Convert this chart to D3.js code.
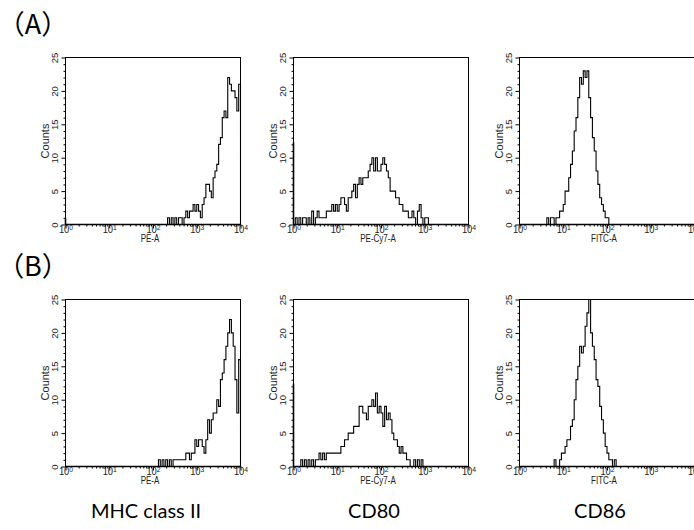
<!DOCTYPE html>
<html>
<head>
<meta charset="utf-8">
<script src="https://cdn.jsdelivr.net/npm/d3@7"></script>
<style>
body { margin: 0; background: #fff; }
svg { display: block; }
</style>
</head>
<body>
<svg id="chart" width="694" height="530"></svg>
<script>
// flow cytometry histograms, 24 bins per decade on a 10^0..10^4 log axis
const rowLabels = ["（A）", "（B）"];
const markers = ["MHC class II", "CD80", "CD86"];
const channels = ["PE-A", "PE-Cy7-A", "FITC-A"];
const yTicks = [0, 5, 10, 15, 20, 25];
const decades = [1, 10, 100, 1000, 10000];
const binsPerDecade = 24;

// first non-empty bin index and counts per bin
const a1Start = 54;
const a1Counts = [0,0,1,0,1,0,1,0,1,1, 0,1,2,1,2,2,3,2,3,2, 1,3,4,6,6,5,4,7,8,9, 12,13,16,17,16,22,21,20,20,19, 17,21];
const a2Start = 0;
const a2Counts = [0,1,0,1,0,1,1,0,1,0, 2,0,1,2,1,1,1,1,2,2, 2,3,2,3,2,3,4,4,3,2, 4,4,5,6,4,6,7,6,7,7, 7,8,9,10,8,10,8,8,9,10, 9,8,7,5,5,5,4,4,3,3, 2,2,2,1,1,2,1,0,2,3, 1,0,1,1,0];
const a3Start = 14;
const a3Counts = [0,1,0,1,1,0,1,1,2,2, 3,5,5,7,9,11,14,16,19,22, 21,23,22,23,19,16,13,11,8,6, 4,3,2,1,1,0];
const b1Start = 51;
const b1Counts = [1,0,1,0,1,0,1,0,1,1, 1,1,1,1,1,2,2,1,2,2, 4,3,4,4,3,2,4,7,5,7, 8,8,10,9,13,14,16,18,20,22, 20,18,13,8,16];
const b2Start = 3;
const b2Counts = [0,1,0,1,0,1,0,1,0,1, 1,2,1,2,1,2,2,2,2,2, 2,2,2,3,3,4,4,5,5,5, 6,6,6,9,9,8,8,7,9,9, 10,9,11,8,9,8,6,9,7,8, 7,5,4,4,3,2,3,2,2,1, 1,0,0,1,0,1,0,1,0];
const b3Start = 18;
const b3Counts = [0,1,0,0,1,2,2,3,4,4, 6,7,10,13,15,18,17,18,21,23, 25,20,18,16,13,12,9,7,5,3, 2,1,1,0,1,0];
// events piled up in the first channel (10^0)
const edgeCounts = [1, 12.3, 0, 0, 12.4, 0];

const panels = [
  { row: 0, col: 0, start: a1Start, counts: a1Counts, edge: edgeCounts[0] },
  { row: 0, col: 1, start: a2Start, counts: a2Counts, edge: edgeCounts[1] },
  { row: 0, col: 2, start: a3Start, counts: a3Counts, edge: edgeCounts[2] },
  { row: 1, col: 0, start: b1Start, counts: b1Counts, edge: edgeCounts[3] },
  { row: 1, col: 1, start: b2Start, counts: b2Counts, edge: edgeCounts[4] },
  { row: 1, col: 2, start: b3Start, counts: b3Counts, edge: edgeCounts[5] }
];

const svg = d3.select("#chart");
const W = 175, H = 167;
const colX = [65.5, 293.5, 519.5];
const rowY = [57.5, 299.5];
const axisFont = "'Liberation Sans', Arial, sans-serif";

const x = d3.scaleLog().domain([1, 1e4]).range([0, W]);
const y = d3.scaleLinear().domain([0, 25]).range([H, 0]);

const minorX = [];
decades.slice(0, -1).forEach(d => { for (let m = 2; m <= 9; m++) minorX.push(d * m); });
const minorY = d3.range(0, 26).filter(v => v % 5 != 0);

const line = d3.line()
    .x(d => x(d[0]))
    .y(d => y(d[1]))
    .curve(d3.curveStepAfter);

panels.forEach(p => {
    var gp = svg.append("g").attr("transform", `translate(${colX[p.col]},${rowY[p.row]})`);

    // y axis: minor then major ticks
    gp.append("g").call(d3.axisLeft(y).tickValues(minorY).tickSize(2).tickSizeOuter(0).tickFormat(""))
        .call(a => a.select(".domain").remove());
    var ya = gp.append("g").call(d3.axisLeft(y).tickValues(yTicks).tickSize(4).tickSizeOuter(0));
    ya.select(".domain").remove();
    ya.selectAll("text")
        .attr("transform", "rotate(-90)")
        .attr("x", 0).attr("y", -8).attr("dy", 0)
        .attr("text-anchor", "middle")
        .attr("font-family", axisFont).attr("font-size", 9.5).attr("fill", "#222");

    gp.append("text")
        .attr("transform", `translate(-17,${H / 2}) rotate(-90)`)
        .attr("text-anchor", "middle")
        .attr("font-family", axisFont).attr("font-size", 11).attr("fill", "#222")
        .text("Counts");

    // x axis: log decades
    gp.append("g").attr("transform", `translate(0,${H})`)
        .call(d3.axisBottom(x).tickValues(minorX).tickSize(2).tickSizeOuter(0).tickFormat(""))
        .call(a => a.select(".domain").remove());
    var xa = gp.append("g").attr("transform", `translate(0,${H})`)
        .call(d3.axisBottom(x).tickValues(decades).tickSize(4).tickSizeOuter(0).tickFormat(""));
    xa.select(".domain").remove();
    xa.selectAll(".tick text").remove();
    xa.selectAll(".tick").append("text")
        .attr("transform", "translate(0,8.8) scale(0.85,1)")
        .attr("text-anchor", "middle")
        .attr("font-family", axisFont).attr("font-size", 11).attr("fill", "#222")
        .each(function(d) {
            var t = d3.select(this);
            t.append("tspan").text("10");
            t.append("tspan").attr("dy", -3.8).attr("font-size", 8).text(Math.round(Math.log10(d)));
        });

    gp.append("text")
        .attr("transform", `translate(${W / 2 - 3},${H + 17}) scale(0.8,1)`)
        .attr("text-anchor", "middle")
        .attr("font-family", axisFont).attr("font-size", 10).attr("fill", "#222")
        .text(channels[p.col]);

    gp.selectAll(".tick line").attr("stroke", "#000");

    // histogram trace
    var pts = [[1, 0], [Math.pow(10, p.start / binsPerDecade), 0]];
    p.counts.forEach((c, i) => pts.push([Math.pow(10, (p.start + i) / binsPerDecade), c]));
    var end = Math.min(1e4, Math.pow(10, (p.start + p.counts.length) / binsPerDecade));
    pts.push([end, 0]);
    pts.push([1e4, 0]);

    gp.append("path")
        .datum(pts)
        .attr("d", line)
        .attr("fill", "none")
        .attr("stroke", "#000")
        .attr("stroke-width", 1.1);

    if (p.edge > 0) {
        gp.append("line")
            .attr("x1", x(1)).attr("x2", x(1))
            .attr("y1", y(0)).attr("y2", y(p.edge))
            .attr("stroke", "#000").attr("stroke-width", 1.6);
    }

    // frame
    gp.append("rect")
        .attr("width", W).attr("height", H)
        .attr("fill", "none")
        .attr("stroke", "#000")
        .attr("stroke-width", 1);
    gp.append("line")
        .attr("x1", 0).attr("x2", W).attr("y1", H).attr("y2", H)
        .attr("stroke", "#000").attr("stroke-width", 1.6);
});

// row labels
svg.selectAll(".rowLabel").data(rowLabels).enter().append("text")
    .attr("class", "rowLabel")
    .attr("x", 33)
    .attr("y", (d, i) => rowY[i] - 24)
    .attr("text-anchor", "middle")
    .attr("font-family", "'Noto Sans CJK JP', sans-serif")
    .attr("font-size", 27)
    .attr("fill", "#000")
    .text(d => d);

// marker names under each column
svg.selectAll(".marker").data(markers).enter().append("text")
    .attr("class", "marker")
    .attr("x", (d, i) => colX[i] + W / 2 - 7)
    .attr("y", 518)
    .attr("text-anchor", "middle")
    .attr("font-family", "Lato, 'Open Sans', sans-serif")
    .attr("font-size", 20)
    .attr("fill", "#000")
    .text(d => d);
</script>
</body>
</html>
